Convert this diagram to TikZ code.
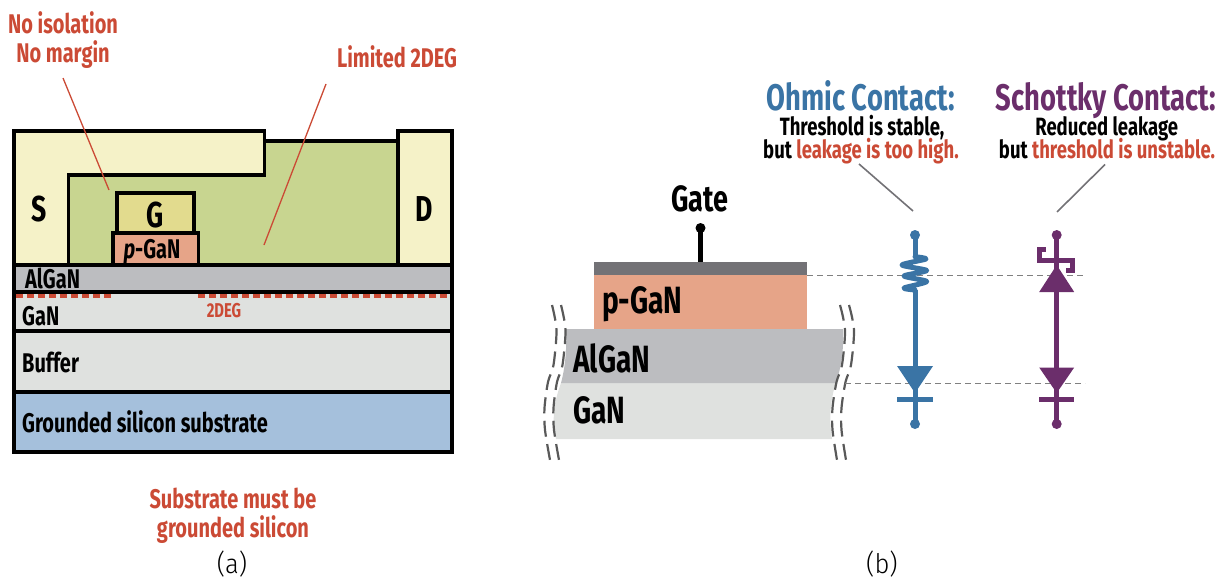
\documentclass[tikz,border=0pt]{standalone}
\usepackage{fontspec}
\setmainfont[FakeStretch=0.74]{Fira Sans}
\newfontfamily\capfont[FakeStretch=0.95,UprightFont=* Light]{Fira Sans}
\definecolor{redc}{HTML}{CB4A35}
\definecolor{bluec}{HTML}{3A74A5}
\definecolor{purc}{HTML}{6B2E6B}
\definecolor{srcc}{HTML}{F5F2C8}
\definecolor{passc}{HTML}{C8D590}
\definecolor{gatec}{HTML}{E2DB8E}
\definecolor{pganc}{HTML}{E6A488}
\definecolor{alganc}{HTML}{BCBDC0}
\definecolor{ganc}{HTML}{DFE1DF}
\definecolor{subc}{HTML}{A5C0DC}
\definecolor{metalc}{HTML}{737276}
\tikzset{
	layer/.style={draw=black,line width=3.3,line join=miter},
	lbl/.style={inner sep=0,anchor=base,font=\fontsize{#1}{#1}\selectfont\bfseries},
	lbll/.style={lbl=#1,anchor=base west},
	redlbl/.style={lbl=#1,text=redc,align=center},
	leader/.style={line width=1.3,color=redc},
	greyleader/.style={line width=1.6,color=metalc},
	guide/.style={line width=0.9,color=gray,dash pattern=on 6 off 4},
	breakline/.style={line width=2.2,color=black!65,dash pattern=on 16 off 7.5,line cap=butt},
	wire/.style={line width=5,line cap=butt},
}
\begin{document}
\begin{tikzpicture}[x=1pt,y=-1pt,line join=round]
	\useasboundingbox (0,0) rectangle (1221,578);
	
	% (a) stack
	\draw[layer,fill=ganc] (14,292) rectangle (452,331);
	\draw[layer,fill=ganc] (14,331) rectangle (452,392);
	\draw[layer,fill=subc] (14,392) rectangle (452,452);
	\draw[layer,fill=alganc] (14,265) rectangle (452,292);
	\draw[layer,fill=passc] (68.5,175) -- (264.5,175) -- (264.5,141) -- (398,141) -- (398,265) -- (68.5,265) -- cycle;
	\draw[layer,fill=srcc] (14,131) -- (264.5,131) -- (264.5,175) -- (68.5,175) -- (68.5,265) -- (14,265) -- cycle;
	\draw[layer,fill=srcc] (398,131) rectangle (452,265);
	\draw[layer,fill=gatec] (117,193) rectangle (194,233);
	\draw[layer,fill=pganc] (113,233) rectangle (198.5,265);
	\draw[line width=4,color=redc,dash pattern=on 7 off 4,line cap=butt] (16,295.5) -- (112,295.5);
	\draw[line width=4,color=redc,dash pattern=on 7 off 4,line cap=butt] (198,295.5) -- (450.5,295.5);
	
	\node[lbl=36] (nS) at (39,221) {S};
	\node[lbl=36] (nG) at (155,227) {G};
	\node[lbl=36] (nD) at (424,221) {D};
	\node[lbl=27] (nPgan) at (152,258) {\textit{p}-GaN};
	\node[lbll=27] (nAlgan) at (25,288) {AlGaN};
	\node[lbll=27] (nGan) at (22,325) {GaN};
	\node[lbl=20,text=redc] (nDeg) at (224,317) {2DEG};
	\node[lbll=27] (nBuffer) at (22,372.5) {Buffer};
	\node[lbll=27] (nSub) at (22,432.5) {Grounded silicon substrate};
	
	\node[redlbl=27] (nIso) at (63,33.5) {No isolation};
	\node[redlbl=27] (nMargin) at (63,62.5) {No margin};
	\node[redlbl=27] (nLim) at (397,67.5) {Limited 2DEG};
	\node[redlbl=27] (nMust) at (233,508) {Substrate must be};
	\node[redlbl=27] (nGrd) at (233,537.5) {grounded silicon};
	\node[inner sep=0,anchor=base,font=\capfont\fontsize{27}{27}\selectfont] (capA) at (232,573) {(a)};
	
	\coordinate (isoA) at (63,78);
	\coordinate (isoB) at (109,190);
	\coordinate (limA) at (326,84);
	\coordinate (limB) at (264,245);
	\draw[leader] (isoA) -- (isoB);
	\draw[leader] (limA) -- (limB);
	
	% (b) gate stack
	\fill[ganc] (561,383) .. controls (553,405) and (552,420) .. (556,439) -- (832,439) .. controls (829,420) and (830,400) .. (836,383) -- cycle;
	\fill[alganc] (566,329) .. controls (567,350) and (565,368) .. (561,383) -- (836,383) .. controls (841,368) and (844,350) .. (843,329) -- cycle;
	\fill[pganc] (594,274.5) rectangle (807,329);
	\fill[metalc] (594,262) rectangle (807,274.5);
	\draw[line width=4.5,line cap=butt] (700.5,228) -- (700.5,262);
	\fill (700.5,228) circle (5);
	
	\foreach \dx in {0,9}
	{
		\draw[breakline] plot[smooth] coordinates {(552+\dx,305) (556.5+\dx,330) (553.5+\dx,365) (548+\dx,382) (544.5+\dx,408) (545+\dx,430) (550+\dx,460)};
		\draw[breakline] plot[smooth] coordinates {(840+\dx,305) (845+\dx,330) (842+\dx,365) (836.5+\dx,382) (832.5+\dx,408) (832.5+\dx,430) (837+\dx,460)};
	}
	
	\node[lbl=36.5] (nGate) at (700,211) {Gate};
	\node[lbll=38] (nPganB) at (602,313.5) {p-GaN};
	\node[lbll=38] (nAlganB) at (573,372) {AlGaN};
	\node[lbll=38] (nGanB) at (573,423.5) {GaN};
	\node[inner sep=0,anchor=base,font=\capfont\fontsize{27}{27}\selectfont] (capB) at (882,573) {(b)};
	
	\coordinate (gTopA) at (807,275);
	\coordinate (gTopB) at (1085,275);
	\coordinate (gLowA) at (845,383);
	\coordinate (gLowB) at (1085,383);
	\draw[guide] (gTopA) -- (gTopB);
	\draw[guide] (gLowA) -- (gLowB);
	
	% ohmic branch
	\def\xo{915}
	\draw[wire,color=bluec] (\xo,235) -- (\xo,256);
	\draw[line width=5,color=bluec,line cap=round] plot[smooth,tension=0.45] coordinates {(\xo,256.7) (\xo+11,259) (\xo-13,265) (\xo+11.7,270.5) (\xo-11,276) (\xo+11.7,281.5) (\xo-11,288) (\xo,290)};
	\draw[wire,color=bluec] (\xo,290) -- (\xo,425);
	\fill[bluec] (\xo,235) circle (5) (\xo,424) circle (5);
	\fill[bluec] (\xo-18,366) -- (\xo+18,366) -- (\xo,393) -- cycle;
	\fill[bluec] (\xo-18,397) rectangle (\xo+17.5,402);
	
	% schottky branch
	\def\xs{1056.7}
	\draw[wire,color=purc] (\xs,235) -- (\xs,425);
	\fill[purc] (\xs,235) circle (5) (\xs,424) circle (5);
	\draw[line width=5,color=purc,line join=miter,line cap=butt] (\xs-11,249) -- (\xs-17,249) -- (\xs-17,260) -- (\xs+16,260) -- (\xs+16,270) -- (\xs+9,270);
	\fill[purc] (\xs,265) -- (\xs+17.5,292) -- (\xs-17.5,292) -- cycle;
	\fill[purc] (\xs-17.5,367.5) -- (\xs+17.5,367.5) -- (\xs,393) -- cycle;
	\fill[purc] (\xs-17.5,397) rectangle (\xs+17,402);
	
	\node[lbl=37,text=bluec] (nOhm) at (860.7,110.5) {Ohmic Contact:};
	\node[lbl=25] (nOhmA) at (862,135) {Threshold is stable,};
	\node[lbl=25] (nOhmB) at (861,158.5) {but {\color{redc}leakage is too high.}};
	\node[lbl=37,text=purc] (nSch) at (1106,110.5) {Schottky Contact:};
	\node[lbl=25] (nSchA) at (1106.7,135) {Reduced leakage};
	\node[lbl=25] (nSchB) at (1107,158.5) {but {\color{redc}threshold is unstable.}};
	
	\coordinate (ohmA) at (859,164);
	\coordinate (ohmB) at (913,211);
	\coordinate (schA) at (1105,164.5);
	\coordinate (schB) at (1057,212);
	\draw[greyleader] (ohmA) -- (ohmB);
	\draw[greyleader] (schA) -- (schB);
\end{tikzpicture}
\end{document}
